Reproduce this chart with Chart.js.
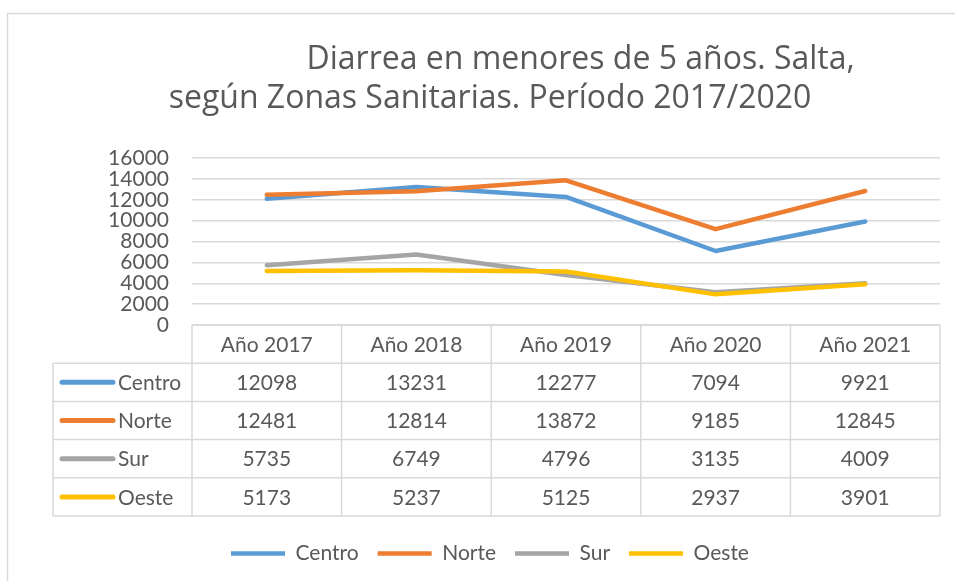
<!DOCTYPE html>
<html lang="es">
<head>
    <meta charset="UTF-8">
    <title>Diarrea en menores de 5 años - Salta</title>
    <script src="https://cdn.jsdelivr.net/npm/chart.js"></script>
    <style>
        body {
            margin: 0;
            padding: 0;
            background: #fff;
        }
        .chart-box {
            position: relative;
            width: 955px;
            height: 581px;
        }
    </style>
</head>
<body>
    <div class="chart-box">
        <canvas id="zonasChart"></canvas>
    </div>

    <script>
        const years = ['Año 2017', 'Año 2018', 'Año 2019', 'Año 2020', 'Año 2021'];
        const zonas = ['Centro', 'Norte', 'Sur', 'Oeste'];
        const centro = [12098, 13231, 12277, 7094, 9921];
        const norte = [12481, 12814, 13872, 9185, 12845];
        const sur = [5735, 6749, 4796, 3135, 4009];
        const oeste = [5173, 5237, 5125, 2937, 3901];
        const yTicks = [0, 2000, 4000, 6000, 8000, 10000, 12000, 14000, 16000];

        const seriesValues = [centro, norte, sur, oeste];
        const seriesColors = ['#5B9BD5', '#ED7D31', '#A5A5A5', '#FFC000'];

        const textColor = '#595959';
        const gridColor = '#D9D9D9';
        const fontFamily = 'Lato, "Open Sans", sans-serif';
        const titleFamily = '"Open Sans", Lato, sans-serif';
        const rowHeight = 38.2;

        // white background + the light frame Excel draws round the chart
        const frame = {
            id: 'frame',
            beforeDraw(chart) {
                const ctx = chart.ctx;
                ctx.save();
                ctx.fillStyle = '#fff';
                ctx.fillRect(0, 0, chart.width, chart.height);
                ctx.strokeStyle = gridColor;
                ctx.lineWidth = 1.5;
                ctx.beginPath();
                ctx.moveTo(7.5, chart.height + 5);
                ctx.lineTo(7.5, 13.5);
                ctx.lineTo(chart.width + 5, 13.5);
                ctx.stroke();
                ctx.restore();
            }
        };

        // data table under the plot, built from the x scale
        const dataTable = {
            id: 'dataTable',
            afterDraw(chart) {
                const ctx = chart.ctx;
                const x = chart.scales.x;
                const area = chart.chartArea;
                const colW = (area.right - area.left) / years.length;
                const top = area.bottom;
                const tableLeft = 53;
                const bottom = top + rowHeight * (zonas.length + 1);

                ctx.save();
                ctx.strokeStyle = gridColor;
                ctx.lineWidth = 1.5;
                ctx.beginPath();
                // header top line
                ctx.moveTo(area.left, top);
                ctx.lineTo(area.right, top);
                // row lines
                for (let r = 1; r <= zonas.length + 1; r++) {
                    const y = top + rowHeight * r;
                    ctx.moveTo(tableLeft, y);
                    ctx.lineTo(area.right, y);
                }
                // column lines
                for (let c = 0; c <= years.length; c++) {
                    const xx = area.left + colW * c;
                    ctx.moveTo(xx, top);
                    ctx.lineTo(xx, bottom);
                }
                ctx.moveTo(tableLeft, top + rowHeight);
                ctx.lineTo(tableLeft, bottom);
                ctx.stroke();

                ctx.fillStyle = textColor;
                ctx.font = '21px ' + fontFamily;
                ctx.textAlign = 'center';
                ctx.textBaseline = 'middle';
                years.forEach((label, i) => {
                    ctx.fillText(label, x.getPixelForValue(i), top + rowHeight / 2 + 1);
                });

                zonas.forEach((name, r) => {
                    const cy = top + rowHeight * (r + 1.5) + 1;
                    // legend key
                    ctx.strokeStyle = seriesColors[r];
                    ctx.lineWidth = 5;
                    ctx.lineCap = 'round';
                    ctx.beginPath();
                    ctx.moveTo(62, cy - 1);
                    ctx.lineTo(113, cy - 1);
                    ctx.stroke();
                    ctx.textAlign = 'left';
                    ctx.fillStyle = textColor;
                    ctx.fillText(name, 118, cy);
                    ctx.textAlign = 'center';
                    seriesValues[r].forEach((v, i) => {
                        ctx.fillText(String(v), x.getPixelForValue(i), cy);
                    });
                });
                ctx.restore();
            }
        };

        const datasets = zonas.map((name, i) => ({
            label: name,
            data: seriesValues[i],
            borderColor: seriesColors[i],
            backgroundColor: seriesColors[i],
            borderWidth: 4.5,
            borderCapStyle: 'round',
            borderJoinStyle: 'round',
            pointRadius: 0,
            tension: 0,
            order: zonas.length - i
        }));

        new Chart(document.getElementById('zonasChart'), {
            type: 'line',
            data: { labels: years, datasets: datasets },
            plugins: [frame, dataTable],
            options: {
                responsive: true,
                maintainAspectRatio: false,
                animation: false,
                layout: {
                    padding: { left: 40, right: 15, top: 0, bottom: 7 }
                },
                plugins: {
                    title: {
                        display: true,
                        // Excel title keeps leading blanks on its first line
                        text: ['\u2003\u2003\u2003\u2003\u2003\u2002\u2009Diarrea en menores de 5 años. Salta,',
                               'según Zonas Sanitarias. Período 2017/2020'],
                        color: textColor,
                        font: { family: titleFamily, size: 32, weight: '400', lineHeight: 1.22 },
                        padding: { top: 40, bottom: 40 }
                    },
                    legend: {
                        position: 'bottom',
                        labels: {
                            color: textColor,
                            font: { family: fontFamily, size: 21 },
                            usePointStyle: true,
                            pointStyle: 'line',
                            pointStyleWidth: 54,
                            padding: 19,
                            sort: (a, b) => a.datasetIndex - b.datasetIndex
                        }
                    },
                    tooltip: { enabled: false }
                },
                scales: {
                    x: {
                        offset: true,
                        grid: { display: false },
                        border: { display: false },
                        ticks: { display: false },
                        afterFit(scale) { scale.height = 199; }
                    },
                    y: {
                        min: 0,
                        max: 16000,
                        afterBuildTicks(scale) {
                            scale.ticks = yTicks.map(v => ({ value: v }));
                        },
                        afterFit(scale) { scale.width = 152; },
                        grid: { color: gridColor, lineWidth: 1.5, drawTicks: false },
                        border: { display: false },
                        ticks: {
                            color: textColor,
                            font: { family: fontFamily, size: 21, lineHeight: 1 },
                            padding: 23,
                            autoSkip: false,
                            callback: (value) => String(value)
                        }
                    }
                }
            }
        });
    </script>
</body>
</html>
